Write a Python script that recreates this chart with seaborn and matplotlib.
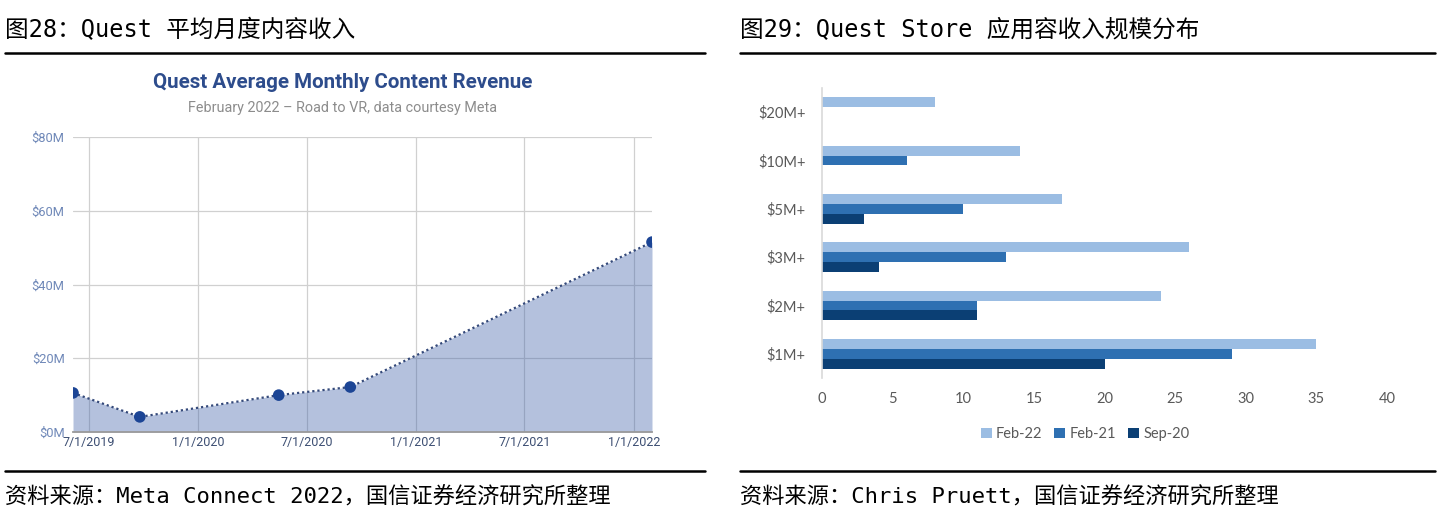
import numpy as np
import pandas as pd
import matplotlib
matplotlib.use("Agg")
import matplotlib.pyplot as plt
from matplotlib.lines import Line2D
import seaborn as sns

# left panel: Quest average monthly content revenue, $M
rev_dates = pd.to_datetime(["2019-06-05", "2019-09-25", "2020-05-15", "2020-09-12", "2022-01-31"])
rev_values = [10.6, 4.1, 10.0, 12.2, 51.5]
date_ticks = pd.to_datetime(["2019-07-01", "2020-01-01", "2020-07-01",
                             "2021-01-01", "2021-07-01", "2022-01-01"])
date_tick_labels = ["7/1/2019", "1/1/2020", "7/1/2020", "1/1/2021", "7/1/2021", "1/1/2022"]
usd_ticks = [0, 20, 40, 60, 80]
usd_tick_labels = ["$0M", "$20M", "$40M", "$60M", "$80M"]

# right panel: number of Quest Store apps per revenue tier
tiers = ["$20M+", "$10M+", "$5M+", "$3M+", "$2M+", "$1M+"]
periods = ["Feb-22", "Feb-21", "Sep-20"]
feb22 = [8, 14, 17, 26, 24, 35]
feb21 = [0, 6, 10, 13, 11, 29]
sep20 = [0, 0, 3, 4, 11, 20]
count_ticks = [0, 5, 10, 15, 20, 25, 30, 35, 40]

HEAD_FONT = ["DejaVu Sans Mono", "Noto Sans CJK SC"]

sns.set_theme(style="white")
plt.rcParams["font.family"] = ["Roboto", "DejaVu Sans"]

fig = plt.figure(figsize=(14.4, 5.19), dpi=100)

# headers, captions and rules
fig.text(5 / 1440, 1 - 30 / 519, "图28：Quest 平均月度内容收入", family=HEAD_FONT,
         fontsize=17, va="center", ha="left", color="black")
fig.text(740 / 1440, 1 - 30 / 519, "图29：Quest Store 应用容收入规模分布", family=HEAD_FONT,
         fontsize=17, va="center", ha="left", color="black")
fig.text(5 / 1440, 1 - 497 / 519, "资料来源：Meta Connect 2022，国信证券经济研究所整理",
         family=HEAD_FONT, fontsize=16, va="center", ha="left", color="black")
fig.text(740 / 1440, 1 - 497 / 519, "资料来源：Chris Pruett，国信证券经济研究所整理",
         family=HEAD_FONT, fontsize=16, va="center", ha="left", color="black")
for x0, x1 in [(5, 705), (740, 1435)]:
    for y in (53, 471):
        fig.add_artist(Line2D([x0 / 1440, x1 / 1440], [1 - y / 519, 1 - y / 519],
                              color="black", lw=1.8))

# ---- left: area chart ----
ax1 = fig.add_axes([73 / 1440, 1 - 432 / 519, (652 - 73) / 1440, (432 - 137) / 519])
rev = pd.DataFrame({"date": rev_dates, "revenue": rev_values})
ax1.fill_between(rev["date"], rev["revenue"], 0, color="#3a5ea8", alpha=0.38, lw=0, zorder=2)
sns.lineplot(data=rev, x="date", y="revenue", ax=ax1, color="#34497a", lw=1.6,
             linestyle=(0, (1, 1.3)), zorder=3)
sns.scatterplot(data=rev, x="date", y="revenue", ax=ax1, color="#1c4595", s=70,
                edgecolor="none", zorder=4)
ax1.set_xlim(rev_dates[0], rev_dates[-1])
ax1.set_ylim(0, 80)
ax1.set_xticks(date_ticks)
ax1.set_xticklabels(date_tick_labels, color="#3d4f73", fontsize=9)
ax1.set_yticks(usd_ticks)
ax1.set_yticklabels(usd_tick_labels, color="#6f88b8", fontsize=9.3)
ax1.tick_params(axis="both", length=0, pad=3)
ax1.tick_params(axis="y", pad=6)
ax1.grid(True, axis="both", color="#d0d0d0", lw=0.9, zorder=0)
ax1.set_axisbelow(True)
for s in ["left", "right", "top"]:
    ax1.spines[s].set_visible(False)
ax1.spines["bottom"].set_color("#9a9a9a")
ax1.spines["bottom"].set_linewidth(1.3)
ax1.set_xlabel("")
ax1.set_ylabel("")
fig.text(343 / 1440, 1 - 83 / 519, "Quest Average Monthly Content Revenue",
         ha="center", va="center", fontsize=14.8, fontweight="bold", color="#2d4c8c")
fig.text(343 / 1440, 1 - 108 / 519, "February 2022 \u2013 Road to VR, data courtesy Meta",
         ha="center", va="center", fontsize=10.4, color="#8c8c8c")

# ---- right: grouped bar chart ----
ax2 = fig.add_axes([822 / 1440, 1 - 378 / 519, (1387 - 822) / 1440, (378 - 88) / 519])
apps = pd.DataFrame({
    "tier": tiers * 3,
    "period": [periods[0]] * 6 + [periods[1]] * 6 + [periods[2]] * 6,
    "count": feb22 + feb21 + sep20,
})
sns.barplot(data=apps, y="tier", x="count", hue="period", order=tiers, hue_order=periods,
            palette=["#9bbde3", "#2e70b2", "#0b3f74"], width=0.62, ax=ax2,
            saturation=1, edgecolor="none", legend=True)
ax2.set_xlim(0, 40)
ax2.set_xticks(count_ticks)
ax2.set_xticklabels([str(t) for t in count_ticks], color="#595959", fontsize=10.5,
                    family=["Lato", "DejaVu Sans"])
ax2.set_yticklabels(tiers, color="#595959", fontsize=10.5, family=["Lato", "DejaVu Sans"])
ax2.tick_params(axis="both", length=0)
ax2.tick_params(axis="x", pad=10)
ax2.tick_params(axis="y", pad=12)
for s in ["right", "top", "bottom"]:
    ax2.spines[s].set_visible(False)
ax2.spines["left"].set_color("#d9d9d9")
ax2.spines["left"].set_linewidth(1.2)
ax2.set_xlabel("")
ax2.set_ylabel("")
ax2.legend(loc="center", bbox_to_anchor=((1085 - 822) / 565, -(434 - 378) / 290),
           ncol=3, frameon=False, handlelength=0.75, handleheight=0.75, handletextpad=0.3,
           columnspacing=0.8, prop={"family": ["Lato", "DejaVu Sans"], "size": 10.5},
           labelcolor="#595959")

fig.savefig("out.png", dpi=100, facecolor="white")
